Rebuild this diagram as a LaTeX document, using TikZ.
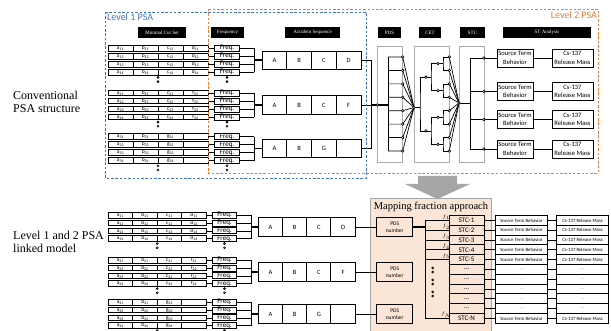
\documentclass[tikz,border=0pt]{standalone}
\usepackage{fontspec}
\setmainfont{Liberation Serif}
\setsansfont{Carlito}
\usetikzlibrary{positioning,calc}

\definecolor{lvlblue}{RGB}{68,114,196}
\definecolor{lvlorange}{RGB}{237,125,49}
\definecolor{mapfill}{RGB}{251,229,214}
\definecolor{colgray}{RGB}{170,170,170}
\definecolor{arrowgray}{RGB}{166,166,166}
\def\cellnone{-}

\tikzset{
    >=stealth,
    link/.style={draw, line width=0.7pt},
    bus/.style={draw, line width=1.6pt},
    lvlframe/.style={dash pattern=on 2.5pt off 1.8pt, line width=0.9pt},
    header/.style={fill=black, text=white, inner sep=0pt, minimum height=11pt,
        font=\fontsize{5}{6}\selectfont},
    cutcell/.style={draw, line width=0.8pt, inner sep=0pt, outer sep=0pt,
        minimum height=5.6pt, text height=3.3pt, text depth=0.9pt,
        font=\sffamily\fontsize{5.5}{6}\selectfont},
    freqbox/.style={draw, line width=0.8pt, inner sep=0pt, minimum height=6pt,
        minimum width=24.5pt, text height=4.4pt, text depth=1.2pt,
        font=\sffamily\fontsize{7}{7}\selectfont},
    seqcell/.style={draw, line width=0.9pt, inner sep=0pt, outer sep=0pt,
        minimum height=18.5pt, font=\sffamily\fontsize{6.5}{7}\selectfont},
    colbox/.style={draw=colgray, line width=0.9pt, inner sep=0pt},
    junc/.style={draw, fill=white, line width=0.6pt},
    stbox/.style={draw, line width=0.9pt, inner sep=0pt, minimum width=36pt,
        minimum height=18pt, align=center,
        font=\sffamily\fontsize{6.6}{8.3}\selectfont},
    csbox/.style={stbox, minimum width=41pt},
    pdsbox/.style={stbox, minimum height=19.4pt,
        font=\sffamily\fontsize{5.5}{7.5}\selectfont},
    stcrow/.style={draw, line width=0.9pt, inner sep=0pt, outer sep=0pt,
        minimum width=35pt, minimum height=9.8pt,
        font=\sffamily\fontsize{7}{7}\selectfont},
    strow/.style={stcrow, minimum width=52pt,
        font=\sffamily\fontsize{4.8}{5}\selectfont},
    flabel/.style={inner sep=0.4pt, font=\fontsize{5}{5}\selectfont},
    caption/.style={align=left, anchor=west, inner sep=0pt,
        font=\fontsize{12}{13}\selectfont},
    dotpair/.pic={\draw[line width=0.6pt] (0,-2.1) circle[radius=1pt]
        (0,2.1) circle[radius=1pt];},
}

\begin{document}
\begin{tikzpicture}[x=1pt,y=-1pt]
\useasboundingbox (0,0) rectangle (611,331);
\clip (0,0) rectangle (611,331);

% row captions
\node[caption] (convlbl) at (13,101.5) {Conventional\\PSA structure};
\node[caption] (linklbl) at (13,241.5) {Level 1 and 2 PSA\\linked model};

% gray columns of the level 2 part
\node[colbox, minimum width=25.4pt, minimum height=116pt] (pdscol) at (390,104) {};
\node[colbox, minimum width=35.3pt, minimum height=116pt] (cetcol) at (431.65,104) {};
\node[colbox, minimum width=25pt, minimum height=116pt] (stccol) at (471.5,104) {};

% column headers
\foreach \nm/\cx/\w/\txt in {hmcs/162/48/Minimal Cut Set, hfreq/227.5/33/Frequency,
    hseq/312.5/55/Accident Sequence, hpds/389.5/23/PDS, hcet/430/22/CET,
    hstc/472.5/25/STC, hst/547/88/ST Analysis}
  \node[header, minimum width=\w pt] (\nm) at (\cx,32.5) {\txt};

% cut sets, frequencies and sequences (u = conventional, l = linked)
\foreach \pf/\rp/\cw/\fx/\bx/\sx/\qw/\ga/\gb/\gc in
    {u/8/25/227/254/274.4/24.75/48.3/93/136.7,
     l/7.8/24.6/224.5/251/270.4/24.2/215.3/260.3/302.3}{
  \foreach \gr/\gy/\lc/\ld/\sc/\sd in {1/\ga/c/d/C/D, 2/\gb/c/f/C/F, 3/\gc/g/-/G/-}{
    \foreach \rw in {1,...,4}{
      \pgfmathsetmacro\ry{\gy+\rp*(\rw-1)}
      \node[cutcell, minimum width=\cw pt] (c\pf-\gr-\rw-1) at ({108+\cw/2},\ry) {a\textsubscript{\gr\rw}};
      \node[cutcell, minimum width=\cw pt, right=0pt of c\pf-\gr-\rw-1] (c\pf-\gr-\rw-2) {b\textsubscript{\gr\rw}};
      \node[cutcell, minimum width=\cw pt, right=0pt of c\pf-\gr-\rw-2] (c\pf-\gr-\rw-3) {\lc\textsubscript{\gr\rw}};
      \node[cutcell, minimum width=\cw pt, right=0pt of c\pf-\gr-\rw-3] (c\pf-\gr-\rw-4)
        {\ifx\ld\cellnone\else\ld\textsubscript{\gr\rw}\fi};
      \node[freqbox] (f\pf-\gr-\rw) at (\fx,\ry) {Freq.};
      \coordinate (b\pf-\gr-\rw) at (\bx,\ry);
      \draw[link] (c\pf-\gr-\rw-4) -- (f\pf-\gr-\rw);
      \draw[link] (f\pf-\gr-\rw) -- (b\pf-\gr-\rw);
    }
    \draw[link] (b\pf-\gr-1) -- (b\pf-\gr-4);
    \pgfmathsetmacro\sy{\gy+1.5*\rp}
    \coordinate (bm\pf-\gr) at (\bx,\sy);
    \node[seqcell, minimum width=\qw pt] (s\pf-\gr-1) at (\sx,\sy) {A};
    \node[seqcell, minimum width=\qw pt, right=0pt of s\pf-\gr-1] (s\pf-\gr-2) {B};
    \node[seqcell, minimum width=\qw pt, right=0pt of s\pf-\gr-2] (s\pf-\gr-3) {\sc};
    \node[seqcell, minimum width=\qw pt, right=0pt of s\pf-\gr-3] (s\pf-\gr-4) {\ifx\sd\cellnone\else\sd\fi};
    \draw[bus] (bm\pf-\gr) -- (s\pf-\gr-1);
    \pic at ({108+2*\cw},{\gy+3.9*\rp}) {dotpair};
    \pic at (\fx,{\gy+3.9*\rp}) {dotpair};
  }
}

% sequences into the PDS bus
\coordinate (jn) at (371,105);
\coordinate (pdsin) at (388,105);
\draw[link] (su-1-4.east) -| (jn);
\draw[link] (su-3-4.east) -| (jn);
\draw[link] (su-2-4) -- (jn);
\draw[bus] (jn) -- (pdsin);

% PDS bins and CET tree
\foreach \i in {1,...,8}{
  \pgfmathsetmacro\ly{57+13.43*(\i-1)}
  \coordinate (pl-\i) at (388,\ly);
  \coordinate (pr-\i) at (402.7,\ly);
  \coordinate (cl-\i) at (449.3,\ly);
}
\coordinate (cetin) at (414,107.5);
\coordinate (stcin) at (459,103);
\foreach \i in {1,...,8}{
  \draw[link] (pl-\i) -- (pr-\i) -- (cetin);
  \draw[link] (cl-\i) -- (stcin);
}
\draw[link] (pl-1) -- (pl-8);
\foreach \j in {1,...,4}{
  \pgfmathtruncatemacro\ia{2*\j-1}
  \pgfmathtruncatemacro\ib{2*\j}
  \pgfmathsetmacro\my{57+13.43*(2*\j-1.5)}
  \coordinate (t3-\j) at (443,\my);
  \draw[link] (cl-\ia) -| (t3-\j) |- (cl-\ib);
}
\foreach \k in {1,2}{
  \pgfmathtruncatemacro\ia{2*\k-1}
  \pgfmathtruncatemacro\ib{2*\k}
  \pgfmathsetmacro\my{57+13.43*(4*\k-2.5)}
  \coordinate (t2-\k) at (431,\my);
  \draw[link] (t3-\ia) -| (t2-\k) |- (t3-\ib);
}
\coordinate (t1) at (420,107.5);
\draw[link] (t2-1) -| (t1) |- (t2-2);
\draw[link] (cetin) -- (t1);

% STC outputs and source term analysis
\coordinate (st0) at (470,103);
\draw[link] (stcin) -- (st0);
\foreach \k/\yk in {1/58,2/91.5,3/119.5,4/149}{
  \node[stbox] (stb-\k) at (515,\yk) {Source Term\\Behavior};
  \node[csbox] (csb-\k) at (572.5,\yk) {Cs-137\\Release Mass};
  \draw[link] (st0) |- (stb-\k);
  \draw[link] (stb-\k) -- (csb-\k);
  \draw[junc] (483.8,\yk) circle[radius=1.3pt];
}

% junction marks
\draw[junc] (377.3,105) circle[radius=1.3pt];
\foreach \i in {1,...,8}{
  \draw[junc] (pr-\i) circle[radius=1.3pt];
  \draw[junc] (cl-\i) circle[radius=1.3pt];
}
\foreach \j in {1,...,4} \draw[junc] ($(t3-\j)+(-5,0)$) circle[radius=1.3pt];
\foreach \k in {1,2} \draw[junc] ($(t2-\k)+(-5,0)$) circle[radius=1.3pt];
\draw[junc] (cetin) circle[radius=1.3pt];
\draw[junc] (stcin) circle[radius=1.3pt];

% level frames
\draw[lvlframe, draw=lvlblue] (105,12) rectangle (366,178);
\draw[lvlframe, draw=lvlorange] (208,9) rectangle (598,173);
\node[anchor=west, inner sep=0pt, text=lvlblue, font=\sffamily\fontsize{10}{12}\selectfont]
  (lvl1) at (107,17.5) {Level 1 PSA};
\node[anchor=east, inner sep=0pt, text=lvlorange, font=\sffamily\fontsize{10}{12}\selectfont]
  (lvl2) at (597,15) {Level 2 PSA};

% arrow down to the linked model
\fill[arrowgray] (418,176) -- (457,176) -- (457,184) -- (470,184) -- (437.5,199)
  -- (405,184) -- (418,184) -- cycle;

% mapping fraction block
\draw[draw=gray!70, line width=0.8pt, fill=mapfill] (370.5,198.5) rectangle (491.5,340);
\node[font=\fontsize{10.5}{12}\selectfont, inner sep=0pt] (maptitle) at (431,206.7) {Mapping fraction approach};
\foreach \gr/\yy in {1/227,2/272,3/314}{
  \node[pdsbox] (pdsn-\gr) at (394.7,\yy) {PDS\\number};
  \draw[link] (sl-\gr-4) -- (pdsn-\gr);
}
\foreach \k in {1,...,11}{
  \pgfmathsetmacro\ky{220.4+9.8*(\k-1)}
  \ifnum\k<6
    \def\stctxt{STC-\k}\def\sttxt{Source Term Behavior}\def\cstxt{Cs-137 Release Mass}
  \else\ifnum\k=11
    \def\stctxt{STC-N}\def\sttxt{Source Term Behavior}\def\cstxt{Cs-137 Release Mass}
  \else
    \def\stctxt{...}\def\sttxt{\textcolor{gray}{...}}\def\cstxt{\textcolor{gray}{...}}
  \fi\fi
  \node[stcrow] (stc-\k) at (466.5,\ky) {\stctxt};
  \node[strow] (str-\k) at (521.5,\ky) {\sttxt};
  \node[strow] (csr-\k) at (582.5,\ky) {\cstxt};
  \coordinate (fb-\k) at (425,\ky);
  \draw[link] (stc-\k) -- (str-\k);
  \draw[link] (str-\k) -- (csr-\k);
}
\draw[link] (fb-1) -- (fb-11);
\foreach \k/\fl in {1/1,2/2,3/3,4/4,5/5,11/N}
  \draw[link] (fb-\k) -- node[flabel, pos=0.88, above] (fl-\k) {$f_{\fl}$} (stc-\k);
\coordinate (fbx) at (425,227);
\draw[bus] (pdsn-1) -- (fbx);
\foreach \yy in {270,282,294} \pic at (432.7,\yy) {dotpair};

\end{tikzpicture}
\end{document}
